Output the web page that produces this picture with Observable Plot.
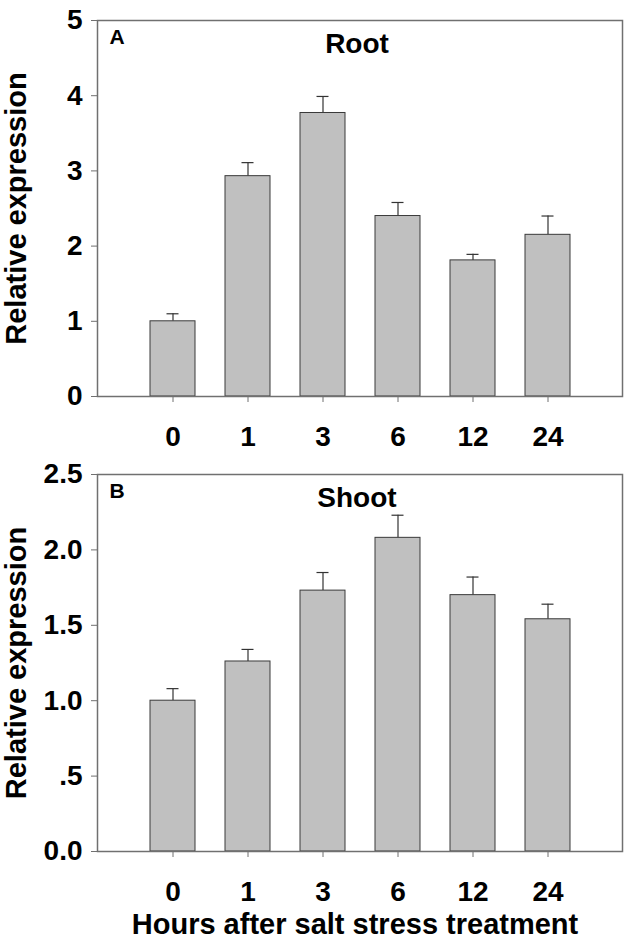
<!DOCTYPE html>
<html>
<head>
<meta charset="utf-8">
<script src="https://cdn.jsdelivr.net/npm/d3@7"></script>
<script src="https://cdn.jsdelivr.net/npm/@observablehq/plot@0.6"></script>
<style>
  html, body { margin: 0; padding: 0; background: #fff; }
  #chart { width: 631px; }
  #chart svg { display: block; }
</style>
</head>
<body>
<div id="chart"></div>
<script>
// ---- data ----
const hours = ["0", "1", "3", "6", "12", "24"];
const rootMean = [1.00, 2.93, 3.77, 2.40, 1.81, 2.15];
const rootErr = [0.10, 0.18, 0.22, 0.18, 0.08, 0.25];
const shootMean = [1.00, 1.26, 1.73, 2.08, 1.70, 1.54];
const shootErr = [0.08, 0.08, 0.12, 0.15, 0.12, 0.10];
const rootTicks = [0, 1, 2, 3, 4, 5];
const shootTicks = [0, 0.5, 1.0, 1.5, 2.0, 2.5];
const shootTickLabels = ["0.0", ".5", "1.0", "1.5", "2.0", "2.5"];
const yTitle = "Relative expression";
const xTitle = "Hours after salt stress treatment";

const FONT = "'Liberation Sans', Arial, Helvetica, sans-serif";
const FRAME = "#707070";

function panel({mean, err, domain, ticks, tickFormat, letter, title, height, marginTop, marginBottom, xLabel}) {
  const data = hours.map((h, i) => ({h, m: mean[i], e: mean[i] + err[i]}));
  const marks = [
    Plot.ruleX(data, {x: "h", y1: "m", y2: "e", stroke: "#333", strokeWidth: 1.2}),
    Plot.tickY(data, {x: "h", y: "e", stroke: "#333", strokeWidth: 1.2, insetLeft: 16.5, insetRight: 16.5}),
    Plot.barY(data, {x: "h", y: "m", fill: "#c0c0c0", stroke: "#3a3a3a", strokeWidth: 1}),
    Plot.frame({stroke: FRAME, strokeWidth: 1.5}),
    Plot.axisX({tickSize: 6, tickPadding: 24, stroke: FRAME, fill: "black", fontSize: 28, fontWeight: "bold", label: null}),
    Plot.axisY({ticks, tickFormat, tickSize: 6, tickPadding: 9, stroke: FRAME, fill: "black", fontSize: 28, fontWeight: "bold", label: null}),
    Plot.text([letter], {frameAnchor: "top-left", dx: 12, dy: 23, lineAnchor: "bottom", textAnchor: "start", fontSize: 21, fontWeight: "bold", fill: "black"}),
    Plot.text([title], {frameAnchor: "top", dx: -3, dy: 32, lineAnchor: "bottom", fontSize: 28, fontWeight: "bold", fill: "black"}),
    Plot.text([yTitle], {frameAnchor: "left", dx: -81, rotate: -90, textAnchor: "middle", lineAnchor: "middle", fontSize: 29, fontWeight: "bold", fill: "black"})
  ];
  if (xLabel) {
    marks.push(Plot.text([xLabel], {frameAnchor: "bottom", dx: -5, dy: 82, lineAnchor: "bottom", fontSize: 29, fontWeight: "bold", fill: "black"}));
  }
  return Plot.plot({
    width: 631,
    height,
    marginTop,
    marginBottom,
    marginLeft: 97,
    marginRight: 9,
    style: {fontFamily: FONT, background: "white", color: "black", overflow: "visible"},
    x: {type: "band", domain: hours, paddingInner: 0.4, paddingOuter: 0.7},
    y: {domain},
    marks
  });
}

const chart = document.getElementById("chart");
chart.appendChild(panel({
  mean: rootMean, err: rootErr, domain: [0, 5], ticks: rootTicks,
  tickFormat: d => String(d), letter: "A", title: "Root",
  height: 460, marginTop: 20, marginBottom: 64, xLabel: null
}));
chart.appendChild(panel({
  mean: shootMean, err: shootErr, domain: [0, 2.5], ticks: shootTicks,
  tickFormat: d => shootTickLabels[shootTicks.indexOf(d)], letter: "B", title: "Shoot",
  height: 480, marginTop: 14, marginBottom: 89, xLabel: xTitle
}));
</script>
</body>
</html>
